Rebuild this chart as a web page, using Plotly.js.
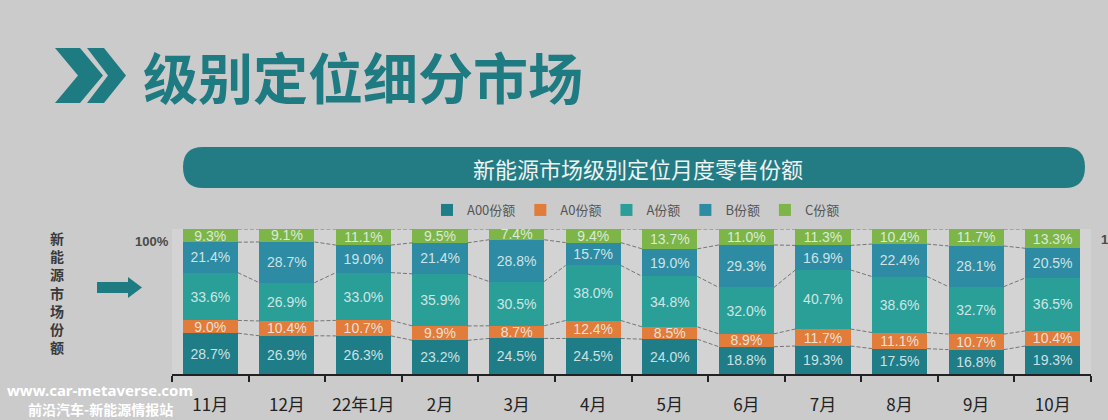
<!DOCTYPE html>
<html>
<head>
<meta charset="utf-8">
<script src="https://cdn.plot.ly/plotly-3.0.1.min.js"></script>
<style>
html,body{margin:0;padding:0;background:#cbcbcb;}
#chart{width:1108px;height:420px;}
</style>
</head>
<body>
<div id="chart"></div>
<script>
// ---- data ----
const months = ['11月','12月','22年1月','2月','3月','4月','5月','6月','7月','8月','9月','10月'];
const seriesNames = ['A00份额','A0份额','A份额','B份额','C份额'];
const a00Share = [28.7,26.9,26.3,23.2,24.5,24.5,24.0,18.8,19.3,17.5,16.8,19.3];
const a0Share  = [9.0,10.4,10.7,9.9,8.7,12.4,8.5,8.9,11.7,11.1,10.7,10.4];
const aShare   = [33.6,26.9,33.0,35.9,30.5,38.0,34.8,32.0,40.7,38.6,32.7,36.5];
const bShare   = [21.4,28.7,19.0,21.4,28.8,15.7,19.0,29.3,16.9,22.4,28.1,20.5];
const cShare   = [9.3,9.1,11.1,9.5,7.4,9.4,13.7,11.0,11.3,10.4,11.7,13.3];
const seriesColors = ['#1f7d88','#e27c3a','#2a9f98','#2d8ca3','#7db548'];

// ---- layout helpers (pixel -> paper) ----
const ML = 172, MR = 17, MT = 229, MB = 46, W = 1108, H = 420;
const PW = W - ML - MR, PH = H - MT - MB;
const px = p => (p - ML) / PW;
const py = p => (H - MB - p) / PH;
const pathFrom = pts => 'M' + pts.map(q => px(q[0]).toFixed(5) + ',' + py(q[1]).toFixed(5)).join(' L') + ' Z';

const allSeries = [a00Share, a0Share, aShare, bShare, cShare];
const traces = allSeries.map((vals, k) => ({
  type: 'bar',
  name: seriesNames[k],
  x: months,
  y: vals,
  text: vals.map(v => v.toFixed(1) + '%'),
  textposition: 'inside',
  insidetextanchor: 'middle',
  constraintext: 'none',
  textfont: {family: 'Liberation Sans, Arial, sans-serif', size: 14, color: 'rgba(235,245,245,0.85)'},
  marker: {color: seriesColors[k], line: {width: 0}},
  hoverinfo: 'skip'
}));

// connector lines between bars (cumulative normalized boundaries)
const barW = 0.72;
const totals = months.map((m, i) => allSeries.reduce((s, arr) => s + arr[i], 0));
for (let level = 0; level < allSeries.length; level++) {
  const xs = [], ys = [];
  for (let i = 0; i < months.length - 1; i++) {
    let c1 = 0, c2 = 0;
    for (let k = 0; k <= level; k++) { c1 += allSeries[k][i]; c2 += allSeries[k][i + 1]; }
    xs.push(i + barW / 2, i + 1 - barW / 2, null);
    ys.push(c1 / totals[i] * 100, c2 / totals[i + 1] * 100, null);
  }
  traces.push({
    type: 'scatter', mode: 'lines', x: xs, y: ys, xaxis: 'x2', yaxis: 'y',
    line: {color: 'rgba(85,85,85,0.75)', width: 1, dash: '4px,2px'},
    showlegend: false, hoverinfo: 'skip', cliponaxis: false
  });
}

const shapes = [
  // chevrons
  {type: 'path', xref: 'paper', yref: 'paper', path: pathFrom([[55,48],[80,48],[103,75.5],[80,103],[55,103],[78,75.5]]), fillcolor: '#1f7b82', line: {width: 0}},
  {type: 'path', xref: 'paper', yref: 'paper', path: pathFrom([[87,48],[104,48],[126,75.5],[104,103],[87,103],[108,75.5]]), fillcolor: '#1f7b82', line: {width: 0}},
  // arrow
  {type: 'path', xref: 'paper', yref: 'paper', path: pathFrom([[97,282],[128,282],[128,277],[142,287.5],[128,298],[128,293],[97,293]]), fillcolor: '#1f7b82', line: {width: 0}},
];
// banner rounded rect
(function(){
  const x0 = 183, x1 = 1085, y0 = 147, y1 = 188, r = 20;
  const P = (a,b) => px(a).toFixed(5) + ',' + py(b).toFixed(5);
  const d = 'M' + P(x0 + r, y0) + ' L' + P(x1 - r, y0) + ' Q' + P(x1, y0) + ' ' + P(x1, y0 + r) +
    ' Q' + P(x1, y1) + ' ' + P(x1 - r, y1) + ' L' + P(x0 + r, y1) + ' Q' + P(x0, y1) + ' ' + P(x0, y0 + r) +
    ' Q' + P(x0, y0) + ' ' + P(x0 + r, y0) + ' Z';
  shapes.push({type: 'path', xref: 'paper', yref: 'paper', path: d, fillcolor: '#237c84', line: {width: 0}, layer: 'below'});
})();

const cjk = 'Noto Sans CJK SC, Liberation Sans, sans-serif';
const annotations = [
  {xref: 'paper', yref: 'paper', x: px(141), y: py(75), xanchor: 'left', yanchor: 'middle', showarrow: false,
   text: '<b>级别定位细分市场</b>', font: {family: cjk, size: 55, color: '#1f7b82'}},
  {xref: 'paper', yref: 'paper', x: px(638), y: py(167.5), xanchor: 'center', yanchor: 'middle', showarrow: false,
   text: '新能源市场级别定位月度零售份额', font: {family: cjk, size: 22, color: '#eef3f3'}},
  {xref: 'paper', yref: 'paper', x: px(57), y: py(292), xanchor: 'center', yanchor: 'middle', showarrow: false,
   text: '<b>' + '新能源市场份额'.split('').join('<br>') + '</b>', font: {family: cjk, size: 14, color: '#3a3a3a'}},
  {xref: 'paper', yref: 'paper', x: px(152), y: py(241), xanchor: 'center', yanchor: 'middle', showarrow: false,
   text: '<b>100%</b>', font: {family: 'Liberation Sans, Arial, sans-serif', size: 13, color: '#4a4a4a'}},
  {xref: 'paper', yref: 'paper', x: px(1099), y: py(239), xanchor: 'left', yanchor: 'middle', showarrow: false,
   text: '<b>100%</b>', font: {family: 'Liberation Sans, Arial, sans-serif', size: 13, color: '#4a4a4a'}},
  {xref: 'paper', yref: 'paper', x: px(100), y: py(390), xanchor: 'center', yanchor: 'middle', showarrow: false,
   text: '<b>www.car-metaverse.com</b>', font: {family: 'Noto Sans, Open Sans, sans-serif', size: 15, color: '#ffffff'}},
  {xref: 'paper', yref: 'paper', x: px(100), y: py(409), xanchor: 'center', yanchor: 'middle', showarrow: false,
   text: '<b>前沿汽车-新能源情报站</b>', font: {family: cjk, size: 14, color: '#ffffff'}},
];

const layout = {
  width: W, height: H,
  margin: {l: ML, r: MR, t: MT, b: MB, pad: 0},
  paper_bgcolor: '#cbcbcb',
  plot_bgcolor: '#d3d3d3',
  barmode: 'stack',
  barnorm: 'percent',
  bargap: 1 - barW,
  showlegend: true,
  legend: {orientation: 'h', x: px(636), xanchor: 'center', y: py(210), yanchor: 'middle',
           font: {family: cjk, size: 13, color: '#555555'}, itemwidth: 30, bgcolor: 'rgba(0,0,0,0)',
           traceorder: 'normal'},
  xaxis: {type: 'category', showline: true, linecolor: '#222', linewidth: 2, ticks: 'outside',
          tickson: 'boundaries', ticklen: 6, tickcolor: '#222', tickwidth: 2, showgrid: false,
          ticklabelstandoff: 15,
          tickfont: {family: cjk, size: 17, color: '#222'}, fixedrange: true},
  xaxis2: {overlaying: 'x', range: [-0.5, months.length - 0.5], visible: false, fixedrange: true},
  yaxis: {range: [0, 100], visible: false, showgrid: false, fixedrange: true},
  shapes: shapes,
  annotations: annotations,
  font: {family: cjk}
};

Plotly.newPlot('chart', traces, layout, {staticPlot: true, displayModeBar: false});
</script>
</body>
</html>
